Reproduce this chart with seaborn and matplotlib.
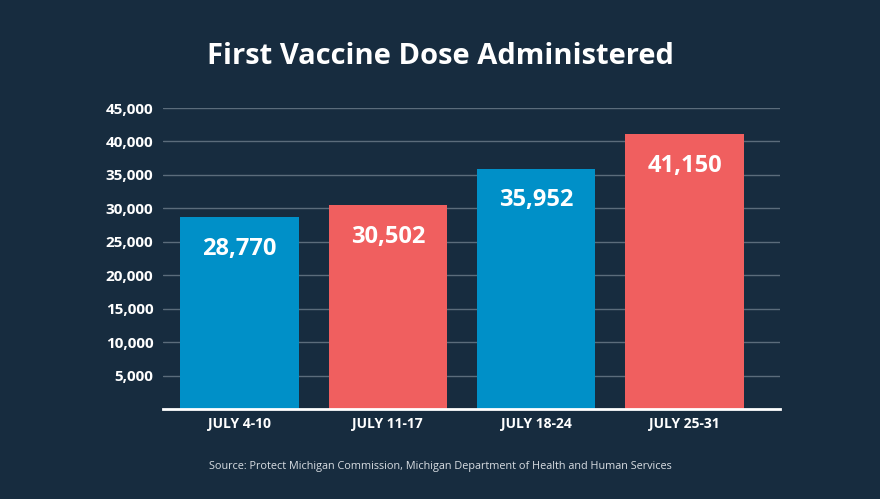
import matplotlib
matplotlib.use("Agg")
import matplotlib.pyplot as plt
import seaborn as sns
import pandas as pd

weeks = ["JULY 4-10", "JULY 11-17", "JULY 18-24", "JULY 25-31"]
doses = [28770, 30502, 35952, 41150]
bar_colors = ["#0090C8", "#F05F5F", "#0090C8", "#F05F5F"]
y_ticks = [5000, 10000, 15000, 20000, 25000, 30000, 35000, 40000, 45000]

BG = "#172C3F"
sns.set_theme(style="dark")
plt.rcParams["font.family"] = ["Open Sans", "DejaVu Sans"]

df = pd.DataFrame({"week": weeks, "doses": doses})

fig = plt.figure(figsize=(8.8, 4.99), dpi=100, facecolor=BG)
ax = fig.add_axes([163 / 880, 1 - 409 / 499, 617 / 880, 301 / 499])
ax.set_facecolor(BG)

sns.barplot(data=df, x="week", y="doses", hue="week", palette=bar_colors,
            width=0.8, legend=False, ax=ax, saturation=1, zorder=3, linewidth=0)

ax.set_ylim(0, 45000)
ax.set_xlim(-0.516, 3.644)
ax.set_yticks(y_ticks)
ax.set_yticklabels([f"{v:,}" for v in y_ticks], fontsize=11, fontweight="bold", color="white")
ax.set_xticks(range(len(weeks)))
ax.set_xticklabels(weeks, fontsize=10, fontweight="bold", color="white")
ax.tick_params(axis="y", length=0, pad=7)
ax.tick_params(axis="x", length=0, pad=6)
ax.grid(axis="y", color="#5B6C7B", linewidth=1, zorder=0)
ax.grid(axis="x", visible=False)
for s in ["top", "right", "left"]:
    ax.spines[s].set_visible(False)
ax.spines["bottom"].set_color("white")
ax.spines["bottom"].set_linewidth(2)
ax.spines["bottom"].set_zorder(4)
ax.set_xlabel("")
ax.set_ylabel("")

for i, v in enumerate(doses):
    ax.annotate(f"{v:,}", xy=(i, v), xytext=(0, -23), textcoords="offset points",
                ha="center", va="center", fontsize=17, fontweight="bold", color="white", zorder=5)

fig.text(440 / 880, 1 - 56 / 499, "First Vaccine Dose Administered", ha="center", va="center",
         fontsize=21, fontweight="bold", color="white")
fig.text(440 / 880, 1 - 466 / 499,
         "Source: Protect Michigan Commission, Michigan Department of Health and Human Services",
         ha="center", va="center", fontsize=7.8, color="#D8DDE2")

fig.savefig("out.png", dpi=100, facecolor=BG)
